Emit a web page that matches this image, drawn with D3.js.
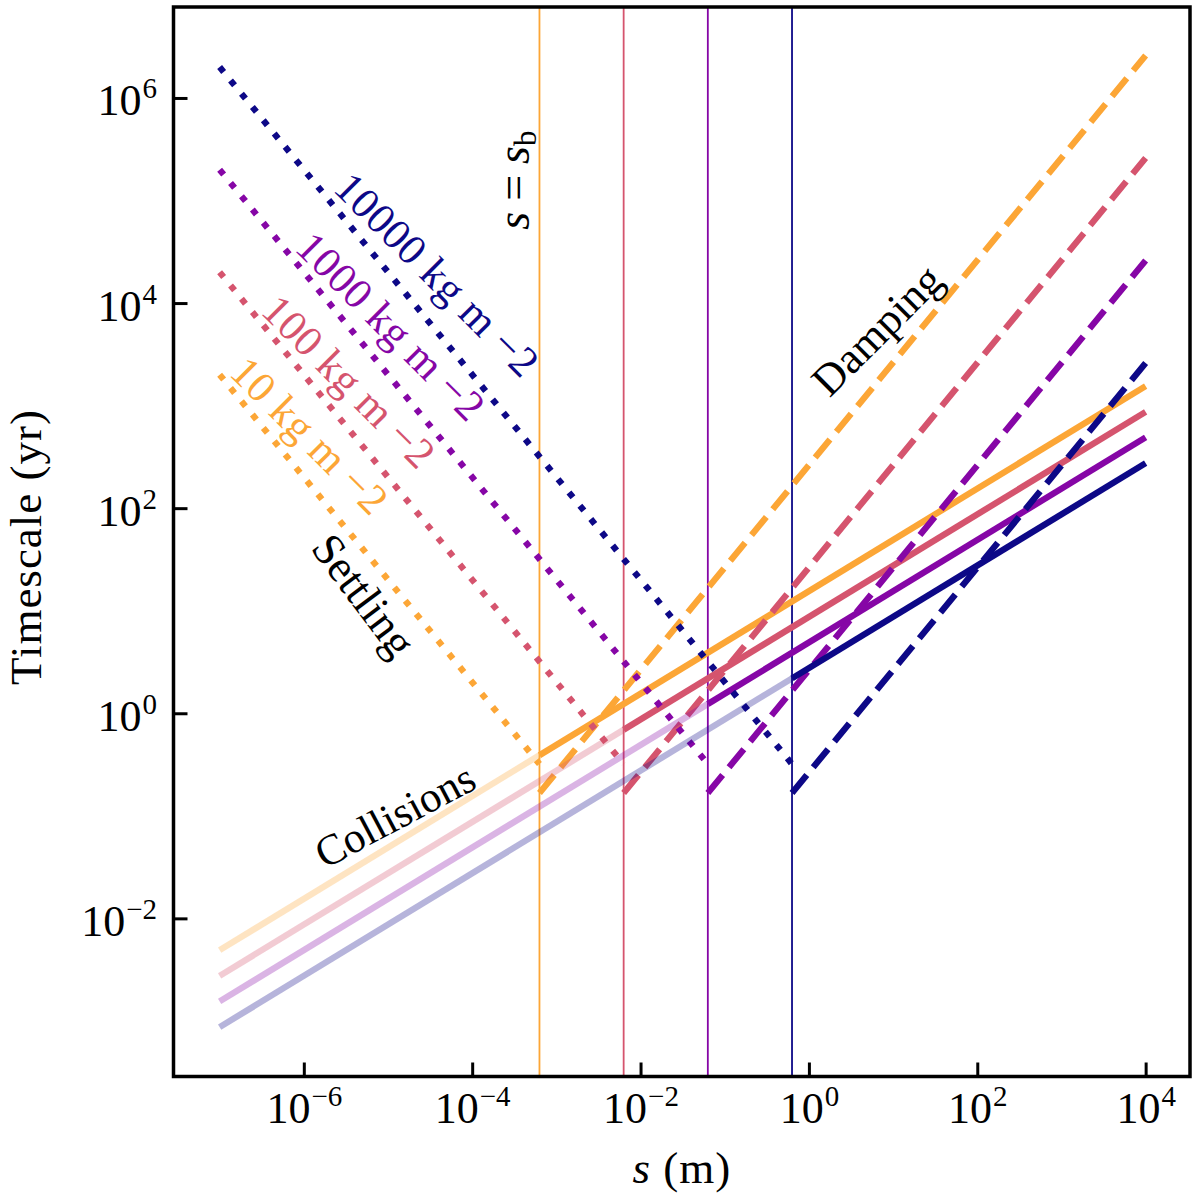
<!DOCTYPE html>
<html><head><meta charset="utf-8">
<script src="https://cdn.jsdelivr.net/npm/d3@7"></script>
<style>body{margin:0;background:#fff} svg{display:block}</style>
</head><body>
<svg id="chart" width="1200" height="1199"></svg>
<script>
// ---------- data ----------
const sigma = [10, 100, 1000, 10000];                 // surface density, kg m^-2
const sigmaLabels = ["10 kg m \u22122", "100 kg m \u22122", "1000 kg m \u22122", "10000 kg m \u22122"];
const colors = ["#fca636", "#d5546e", "#8606a6", "#0d0887"];
const sMin = 1e-7, sMax = 1e4;                        // size range (m)
const sBreak = [6.3e-4, 6.3e-3, 6.3e-2, 6.3e-1];      // s = s_b
const settleAtMin = [2.0e3, 2.0e4, 2.0e5, 2.0e6];     // settling timescale at sMin (yr)
const settleAtBreak = [0.32, 0.32, 0.32, 0.32];       // settling timescale at s_b
const collAtMin = [4.9e-3, 2.75e-3, 1.55e-3, 8.7e-4]; // collision timescale at sMin
const collAtBreak = [0.39, 0.69, 1.23, 2.19];         // collision timescale at s_b
const collAtMax = [1550, 870, 490, 275];              // collision timescale at sMax
const dampAtBreak = [0.167, 0.167, 0.167, 0.167];     // damping timescale at s_b
const dampAtMax = [2.6e6, 2.6e5, 2.6e4, 2.6e3];       // damping timescale at sMax
const xTickExp = [-6, -4, -2, 0, 2, 4];
const yTickExp = [-2, 0, 2, 4, 6];
// annotation anchors in data coordinates [s, t]
const sigmaLabelPos = [[8.9e-7, 405], [2.6e-6, 1.36e3], [8.2e-6, 4.7e3], [2.9e-5, 1.5e4]];
const settlingPos = [4.7e-6, 13.3];
const collisionsPos = [1.2e-5, 0.102];
const dampingPos = [7.0, 5.1e3];
const sbPos = [4.7e-4, 1.58e5];

// ---------- layout ----------
const FONT = "'Liberation Serif', 'DejaVu Serif', serif";
const L = 173.5, R = 1190, T = 7, B = 1076.5;
const svg = d3.select("#chart");
const x = d3.scaleLog().domain([Math.pow(10, -7.548), Math.pow(10, 4.527)]).range([L, R]);
const y = d3.scaleLog().domain([Math.pow(10, -3.542), Math.pow(10, 6.887)]).range([B, T]);
const LW = 6.3;

svg.append("defs").append("clipPath").attr("id", "clip")
  .append("rect").attr("x", L).attr("y", T).attr("width", R - L).attr("height", B - T);

const plot = svg.append("g").attr("clip-path", "url(#clip)");
const line = d3.line().x(d => x(d[0])).y(d => y(d[1]));

// vertical lines at s_b
plot.selectAll(".vline").data(sBreak).join("line")
  .attr("x1", d => x(d)).attr("x2", d => x(d))
  .attr("y1", T).attr("y2", B)
  .attr("stroke", (d, i) => colors[i]).attr("stroke-width", 1.8);

sigma.forEach((sg, i) => {
  const c = colors[i];
  // settling (dotted)
  plot.append("path").datum([[sMin, settleAtMin[i]], [sBreak[i], settleAtBreak[i]]])
    .attr("d", line).attr("fill", "none").attr("stroke", c).attr("stroke-width", LW)
    .attr("stroke-dasharray", "6.3,10.9").attr("stroke-linecap", "butt");
  // collisions, faded part
  plot.append("path").datum([[sMin, collAtMin[i]], [sBreak[i], collAtBreak[i]]])
    .attr("d", line).attr("fill", "none").attr("stroke", c).attr("stroke-width", LW)
    .attr("stroke-opacity", 0.3);
  // collisions, solid part
  plot.append("path").datum([[sBreak[i], collAtBreak[i]], [sMax, collAtMax[i]]])
    .attr("d", line).attr("fill", "none").attr("stroke", c).attr("stroke-width", LW);
  // damping (dashed)
  plot.append("path").datum([[sBreak[i], dampAtBreak[i]], [sMax, dampAtMax[i]]])
    .attr("d", line).attr("fill", "none").attr("stroke", c).attr("stroke-width", LW)
    .attr("stroke-dasharray", "23.3,10.1").attr("stroke-linecap", "butt");
});

// ---------- axes ----------
const xAxis = d3.axisBottom(x).tickValues(xTickExp.map(e => Math.pow(10, e)))
  .tickSizeInner(-14).tickSizeOuter(0).tickPadding(46.5);
const gx = svg.append("g").attr("transform", `translate(0,${B})`).call(xAxis);
gx.select(".domain").remove();
gx.selectAll(".tick line").attr("stroke", "#000").attr("stroke-width", 3);
gx.selectAll(".tick text").attr("dy", 0).attr("font-family", FONT).attr("font-size", 44)
  .attr("fill", "#000").each(function (d, i) {
    const t = d3.select(this); t.text(null);
    t.append("tspan").text("10");
    t.append("tspan").attr("dy", -17).attr("dx", 1).attr("font-size", 29)
      .text(String(xTickExp[i]).replace("-", "\u2212"));
  });

const yAxis = d3.axisLeft(y).tickValues(yTickExp.map(e => Math.pow(10, e)))
  .tickSizeInner(-14).tickSizeOuter(0).tickPadding(16.5);
const gy = svg.append("g").attr("transform", `translate(${L},0)`).call(yAxis);
gy.select(".domain").remove();
gy.selectAll(".tick line").attr("stroke", "#000").attr("stroke-width", 3);
gy.selectAll(".tick text").attr("dy", 17).attr("x", -16.5).attr("font-family", FONT)
  .attr("font-size", 44).attr("fill", "#000").each(function (d, i) {
    const t = d3.select(this); t.text(null);
    t.append("tspan").text("10");
    t.append("tspan").attr("dy", -17).attr("dx", 1).attr("font-size", 29)
      .text(String(yTickExp[i]).replace("-", "\u2212"));
  });

// frame
svg.append("rect").attr("x", L).attr("y", T).attr("width", R - L).attr("height", B - T)
  .attr("fill", "none").attr("stroke", "#000").attr("stroke-width", 3.5);

// axis titles
const xt = svg.append("text").attr("x", (L + R) / 2).attr("y", 1183)
  .attr("text-anchor", "middle").attr("font-family", FONT).attr("font-size", 45)
  .attr("letter-spacing", 1);
xt.append("tspan").attr("font-style", "italic").text("s");
xt.append("tspan").text(" (m)");

svg.append("text").attr("transform", `translate(41,547) rotate(-90)`)
  .attr("text-anchor", "middle").attr("font-family", FONT).attr("font-size", 45)
  .attr("letter-spacing", 1).text("Timescale (yr)");

// ---------- annotations ----------
const ann = svg.append("g").attr("font-family", FONT);
sigmaLabels.forEach((lab, i) => {
  ann.append("text")
    .attr("transform", `translate(${x(sigmaLabelPos[i][0])},${y(sigmaLabelPos[i][1])}) rotate(45)`)
    .attr("text-anchor", "middle").attr("font-size", 43).attr("letter-spacing", 0.5)
    .attr("fill", colors[i]).text(lab);
});
ann.append("text")
  .attr("transform", `translate(${x(settlingPos[0])},${y(settlingPos[1])}) rotate(53)`)
  .attr("text-anchor", "middle").attr("dy", "0.24em").attr("font-size", 45).text("Settling");
ann.append("text")
  .attr("transform", `translate(${x(collisionsPos[0])},${y(collisionsPos[1])}) rotate(-28)`)
  .attr("text-anchor", "middle").attr("dy", "0.35em").attr("font-size", 43).text("Collisions");
ann.append("text")
  .attr("transform", `translate(${x(dampingPos[0])},${y(dampingPos[1])}) rotate(-45)`)
  .attr("text-anchor", "middle").attr("dy", "0.24em").attr("font-size", 44).text("Damping");
const sb = ann.append("text")
  .attr("transform", `translate(${x(sbPos[0])},${y(sbPos[1])}) rotate(-90)`)
  .attr("text-anchor", "middle").attr("font-size", 46);
sb.append("tspan").attr("font-style", "italic").text("s");
sb.append("tspan").attr("dx", 11).text("=");
sb.append("tspan").attr("dx", 11).attr("font-style", "italic").text("s");
sb.append("tspan").attr("dy", 7).attr("font-size", 31).text("b");
</script>
</body></html>
